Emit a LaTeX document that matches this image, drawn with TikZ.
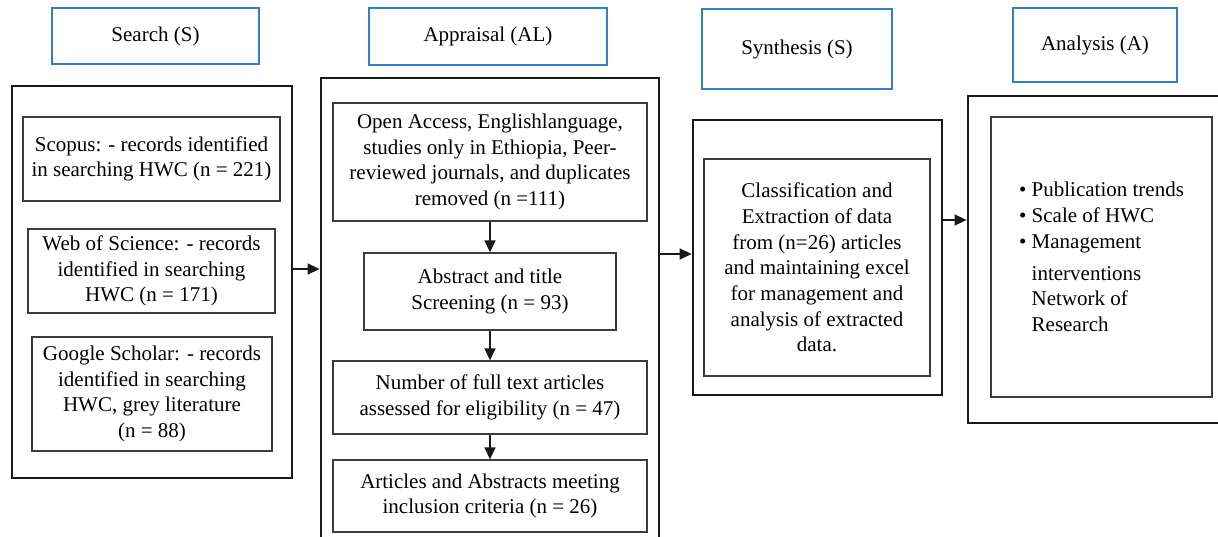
\documentclass[tikz,border=0pt]{standalone}
\usepackage{fontspec}
\setmainfont{Liberation Serif}
\usetikzlibrary{arrows.meta}
\definecolor{hblue}{RGB}{47,128,200}
\definecolor{ingray}{RGB}{60,60,60}
\tikzset{
  hdr/.style={draw=hblue, line width=2.6pt, rectangle, inner sep=0pt, align=center},
  outerbox/.style={draw=black!90, line width=2.8pt, rectangle, inner sep=0pt},
  innerbox/.style={draw=ingray, line width=1.3pt, rectangle, inner sep=0pt, align=center},
  arr/.style={draw=black!90, line width=1.5pt, -{Triangle[length=12pt,width=11pt]}},
}
\begin{document}
\begin{tikzpicture}[x=1pt, y=-1pt, font=\fontsize{21}{25.7}\selectfont]
\useasboundingbox (0,0) rectangle (1218,537);
% headers
\node[hdr, minimum width=207pt, minimum height=56pt] (hS)  at (155.5,36)  {Search (S)};
\node[hdr, minimum width=238pt, minimum height=57pt] (hA)  at (488,36.5)  {Appraisal (AL)};
\node[hdr, minimum width=190pt, minimum height=80pt] (hSy) at (797,49)    {Synthesis (S)};
\node[hdr, minimum width=164pt, minimum height=74pt] (hAn) at (1095,45)   {Analysis (A)};
% outer boxes
\node[outerbox, minimum width=280pt, minimum height=392pt] (oS)  at (152,282) {};
\node[outerbox, minimum width=338pt, minimum height=482pt] (oA)  at (490,319) {};
\node[outerbox, minimum width=249pt, minimum height=275pt] (oSy) at (817.5,257.5) {};
\node[outerbox, minimum width=262pt, minimum height=327pt] (oAn) at (1099,259.5) {};
% search inner
\node[innerbox, minimum width=257pt, minimum height=84pt] (scopus) at (151.5,159)
  {Scopus: - records identified\\in searching HWC (n = 221)};
\node[innerbox, minimum width=247pt, minimum height=84pt] (wos) at (151.5,271)
  {Web of Science: - records\\identified in searching\\HWC (n = 171)};
\node[innerbox, minimum width=240pt, minimum height=114pt] (google) at (152,394)
  {Google Scholar: - records\\identified in searching\\HWC, grey literature\\(n = 88)};
% appraisal inner
\node[innerbox, minimum width=314pt, minimum height=118pt] (open) at (490,162)
  {Open Access, Englishlanguage,\\studies only in Ethiopia, Peer-\\reviewed journals, and duplicates\\removed (n =111)};
\node[innerbox, minimum width=252pt, minimum height=77pt] (abstract) at (490,291.5)
  {Abstract and title\\Screening (n = 93)};
\node[innerbox, minimum width=314pt, minimum height=73pt] (number) at (490,397.5)
  {Number of full text articles\\assessed for eligibility (n = 47)};
\node[innerbox, minimum width=314pt, minimum height=72pt] (articles) at (490,496)
  {Articles and Abstracts meeting\\inclusion criteria (n = 26)};
% synthesis inner
\node[innerbox, minimum width=226pt, minimum height=217pt] (syn) at (817,267.5)
  {Classification and\\Extraction of data\\from (n=26) articles\\and maintaining excel\\for management and\\analysis of extracted\\data.};
% analysis inner
\node[innerbox, minimum width=221pt, minimum height=280pt, align=left] (ana) at (1101.5,257)
  {\textbullet\ Publication trends\\
   \textbullet\ Scale of HWC\\
   \textbullet\ Management\\[6pt]
   \hphantom{\textbullet\ }interventions\\
   \hphantom{\textbullet\ }Network of\\
   \hphantom{\textbullet\ }Research};
% connectors
\draw[arr] (oS.east |- 0,269) -- (oA.west |- 0,269);
\draw[arr] (oA.east |- 0,254) -- (oSy.west |- 0,254);
\draw[arr] (oSy.east |- 0,220) -- (oAn.west |- 0,220);
\draw[arr] (open.south) -- (abstract.north);
\draw[arr] (abstract.south) -- (number.north);
\draw[arr] (number.south) -- (articles.north);
\end{tikzpicture}
\end{document}
